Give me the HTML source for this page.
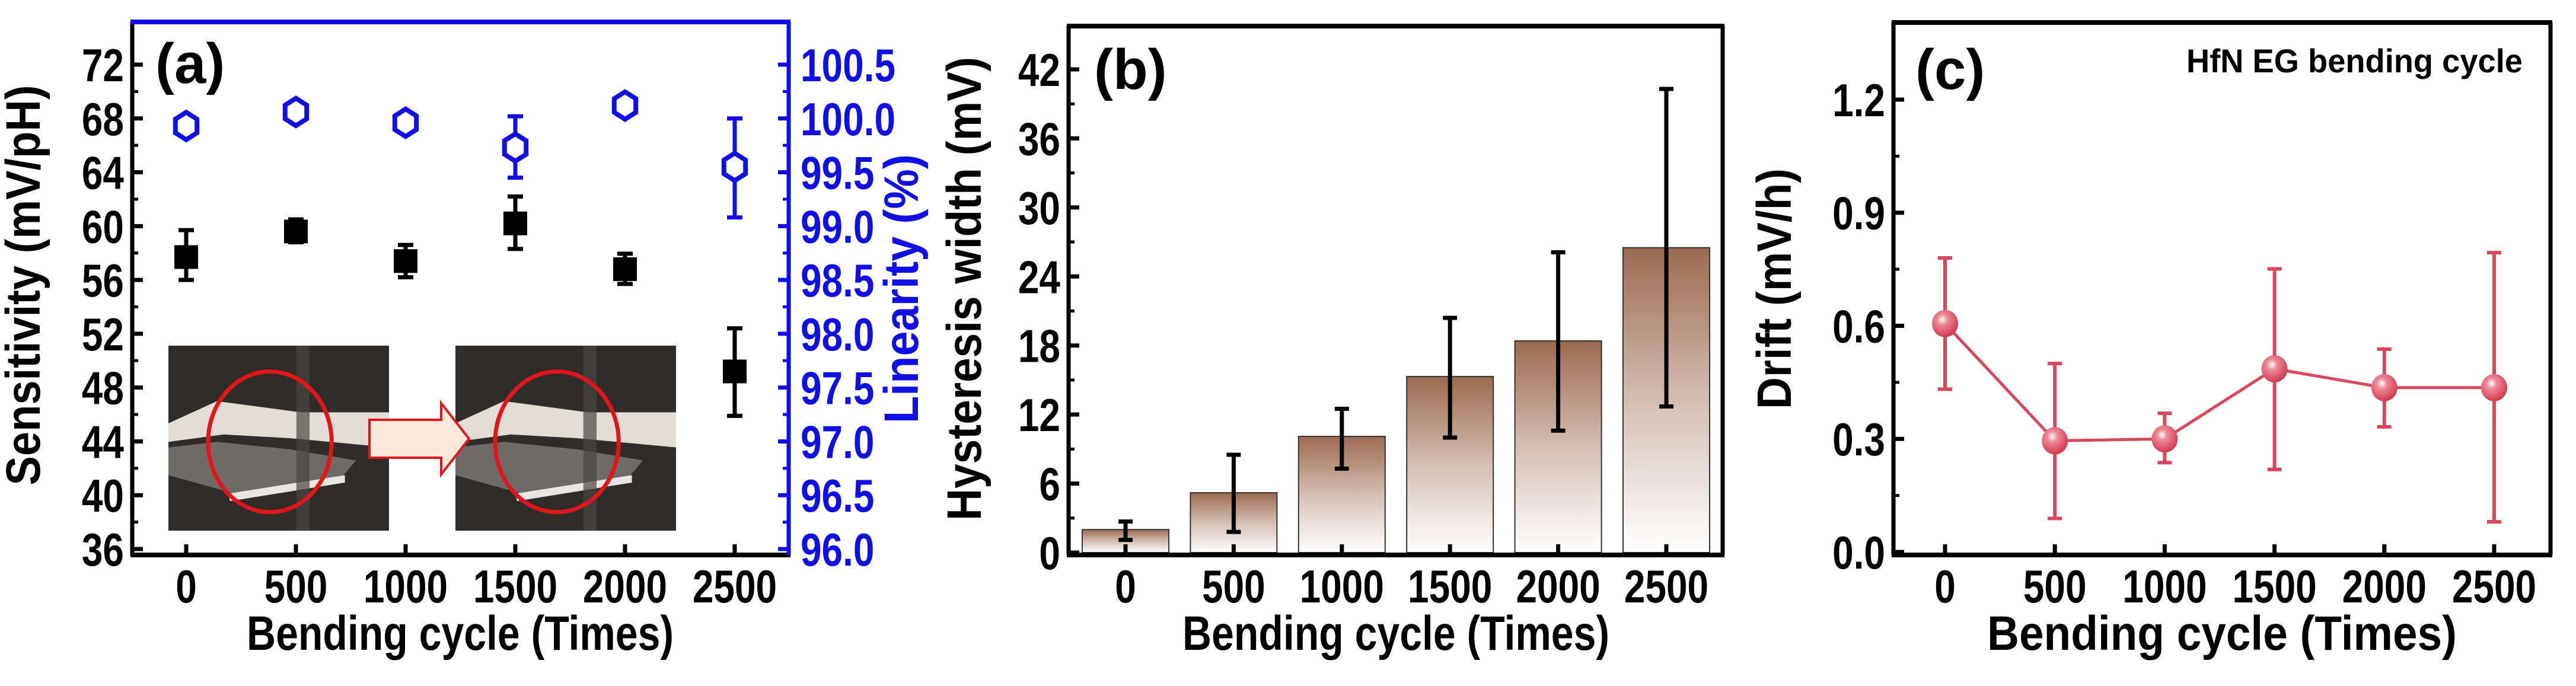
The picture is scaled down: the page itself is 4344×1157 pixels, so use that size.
<!DOCTYPE html>
<html><head><meta charset="utf-8"><style>
html,body{margin:0;padding:0;background:#fff;}
svg{display:block;font-family:"Liberation Sans",Arial,sans-serif;font-weight:bold;}
</style></head><body>
<svg id="fig" width="4344" height="1157" viewBox="0 0 4344 1157" xmlns="http://www.w3.org/2000/svg">
<defs>
<linearGradient id="barGrad" x1="0" y1="0" x2="0" y2="1">
<stop offset="0" stop-color="#9c6a50"/><stop offset="0.55" stop-color="#d9c6bd"/><stop offset="1" stop-color="#ffffff"/>
</linearGradient>
<radialGradient id="ballGrad" cx="0.4" cy="0.35" r="0.65">
<stop offset="0" stop-color="#ffffff"/><stop offset="0.3" stop-color="#ee8a98"/><stop offset="1" stop-color="#d43a50"/>
</radialGradient>
</defs>
<g id="panelA"></g>
<g id="panelB"></g>
<g id="panelC"></g>
</svg>
<script>
// ---- data ----
const cycles = [0, 500, 1000, 1500, 2000, 2500];
const sensVals = [57.7, 59.6, 57.4, 60.2, 56.8, 49.2];
const sensHi = [59.7, 60.5, 58.6, 62.2, 57.95, 52.4];
const sensLo = [56.0, 58.8, 56.2, 58.3, 55.7, 45.9];
const linVals = [99.93, 100.06, 99.96, 99.73, 100.12, 99.55];
const linHi = [99.97, 100.1, 100.0, 100.02, 100.16, 100.0];
const linLo = [99.89, 100.02, 99.92, 99.45, 100.08, 99.08];
const sensTicks = [36, 40, 44, 48, 52, 56, 60, 64, 68, 72];
const linTicks = ["96.0","96.5","97.0","97.5","98.0","98.5","99.0","99.5","100.0","100.5"];
const hystVals = [2.0, 5.2, 10.1, 15.3, 18.4, 26.5];
const hystHi = [2.7, 8.5, 12.5, 20.4, 26.1, 40.3];
const hystLo = [1.1, 1.8, 7.3, 10.0, 10.6, 12.7];
const hystTicks = [0, 6, 12, 18, 24, 30, 36, 42];
const driftVals = [0.606, 0.295, 0.30, 0.486, 0.436, 0.436];
const driftHi = [0.78, 0.50, 0.368, 0.751, 0.538, 0.794];
const driftLo = [0.432, 0.089, 0.237, 0.219, 0.332, 0.08];
const driftTicks = ["0.0","0.3","0.6","0.9","1.2"];

const NS = "http://www.w3.org/2000/svg";
function mk(parent, tag, attrs, text){
  const e = document.createElementNS(NS, tag);
  for (const k in attrs) e.setAttribute(k, attrs[k]);
  if (text !== undefined) e.textContent = text;
  parent.appendChild(e);
  return e;
}
function lin(d0,d1,r0,r1){ return v => r0 + (v-d0)/(d1-d0)*(r1-r0); }

function frame(g, L, R, T, B, color, rightColor){
  let e;
  e = mk(g,'line',{x1:L,y1:T,x2:L,y2:B,stroke:'#000','stroke-width':7});
   
  e = mk(g,'line',{x1:L-3,y1:B,x2:R+3,y2:B,stroke:'#000','stroke-width':8});
   
  e = mk(g,'line',{x1:L-3,y1:T,x2:R+3,y2:T,stroke:rightColor||'#000','stroke-width':8});
   
  e = mk(g,'line',{x1:R,y1:T,x2:R,y2:B,stroke:rightColor||'#000','stroke-width':7});
   
}
function xAxis(g, xs, B, titleX, titleLen){
  cycles.forEach(c => {
    const x = xs(c);
    const t = mk(g,'line',{x1:x,y1:B,x2:x,y2:B-18,stroke:'#000','stroke-width':7});
     
    const l = mk(g,'text',{x:x,y:B+80,'text-anchor':'middle','font-size':78,fill:'#000',transform:`translate(${x},0) scale(0.82,1) translate(${-x},0)`}, String(c));
     
  });
  const tt = mk(g,'text',{x:titleX,y:B+160,'text-anchor':'middle','font-size':82,fill:'#000',textLength:titleLen,lengthAdjust:'spacingAndGlyphs'},'Bending cycle (Times)');
   
}
function yTicks(g, ys, vals, labels, L, T, B, color, right){
  const dir = right ? -1 : 1;
  vals.forEach((v,i) => {
    const y = ys(v);
    const t = mk(g,'line',{x1:L,y1:y,x2:L+dir*18,y2:y,stroke:color,'stroke-width':7});
     
    if (i < vals.length-1){
      const ym = (ys(v)+ys(vals[i+1]))/2;
      const m = mk(g,'line',{x1:L,y1:ym,x2:L+dir*10,y2:ym,stroke:color,'stroke-width':5});
       
    }
    const tx = right ? L+20 : L-14;
    const l = mk(g,'text',{x:tx,y:y+28,'text-anchor':right?'start':'end','font-size':78,fill:color,transform:`translate(${tx},0) scale(0.82,1) translate(${-tx},0)`}, String(labels[i]));
     
  });
}
function yTitle(g, x, y, len, text, color, name){
  const t = mk(g,'text',{x:0,y:0,'text-anchor':'middle','font-size':82,fill:color,textLength:len,lengthAdjust:'spacingAndGlyphs',transform:`translate(${x},${y}) rotate(-90)`}, text);
   
}
function errBar(g, x, y1, y2, color, w, cap){
  const e = mk(g,'g',{});
   
  mk(e,'line',{x1:x,y1:y1,x2:x,y2:y2,stroke:color,'stroke-width':w});
  mk(e,'line',{x1:x-cap,y1:y1,x2:x+cap,y2:y1,stroke:color,'stroke-width':w});
  mk(e,'line',{x1:x-cap,y1:y2,x2:x+cap,y2:y2,stroke:color,'stroke-width':w});
}

// ---- Panel A ----
(function(){
  const g = document.getElementById('panelA');
  const L=223, R=1330, T=37, B=936;
  const xs = lin(0,2500,314,1239);
  const ys = lin(36,72,926,109);
  const yl = lin(96,100.5,926,109);
  function photo(x0,y0,w,h,name){
    const p = mk(g,'g',{});
     
    mk(p,'rect',{x:x0,y:y0,width:w,height:h,fill:'#2f2c29'});
    mk(p,'polygon',{points:`${x0},${y0+h*0.42} ${x0+w*0.22},${y0+h*0.3} ${x0+w*0.6},${y0+h*0.36} ${x0+w},${y0+h*0.36} ${x0+w},${y0+h*0.55} ${x0+w*0.55},${y0+h*0.5} ${x0+w*0.25},${y0+h*0.48} ${x0},${y0+h*0.52}`,fill:'#e2ded6'});
    mk(p,'polygon',{points:`${x0},${y0+h*0.55} ${x0+w*0.22},${y0+h*0.52} ${x0+w*0.55},${y0+h*0.56} ${x0+w*0.85},${y0+h*0.62} ${x0+w*0.78},${y0+h*0.72} ${x0+w*0.3},${y0+h*0.8} ${x0},${y0+h*0.7}`,fill:'#6e6a66'});
    mk(p,'polygon',{points:`${x0+w*0.27},${y0+h*0.8} ${x0+w*0.8},${y0+h*0.7} ${x0+w*0.8},${y0+h*0.74} ${x0+w*0.28},${y0+h*0.84}`,fill:'#e8e6e2'});
    mk(p,'rect',{x:x0+w*0.58,y:y0,width:w*0.06,height:h,fill:'#4a4643',opacity:0.7});
    const c = mk(p,'ellipse',{cx:x0+w*0.46,cy:y0+h*0.52,rx:w*0.28,ry:h*0.38,fill:'none',stroke:'#e0161b','stroke-width':7});
     
  }
  photo(284,583,372,312,'inset-photo-before');
  photo(768,583,372,312,'inset-photo-after');
  const ar = mk(g,'polygon',{points:'623,708 744,708 744,680 791,740 744,800 744,772 623,772',fill:'#fbe9dc',stroke:'#e0161b','stroke-width':4});
   

  frame(g,L,R,T,B,'#000','#1010e6');
  yTicks(g, ys, sensTicks, sensTicks, L, T, B, '#000', false);
  yTicks(g, yl, linTicks.map(Number), linTicks, R, T, B, '#1010e6', true);
  xAxis(g, xs, B, 776, 720);
  yTitle(g, 67, 481, 675, 'Sensitivity (mV/pH)', '#000', 'y-axis-title');
  yTitle(g, 1548, 487, 454, 'Linearity (%)', '#1010e6', 'right-y-axis-title');
  const lab = mk(g,'text',{x:262,y:140,'font-size':96,fill:'#000'},'(a)');
   

  cycles.forEach((c,i)=>{
    const x = xs(c);
    errBar(g,x,ys(sensHi[i]),ys(sensLo[i]),'#000',7,13);
    const s = mk(g,'rect',{x:x-20,y:ys(sensVals[i])-20,width:40,height:40,fill:'#000'});
     
    errBar(g,x,yl(linHi[i]),yl(linLo[i]),'#1010e6',7,13);
    const cy = yl(linVals[i]); const r=21;
    let pts=[]; for(let k=0;k<6;k++){const a=Math.PI/2+k*Math.PI/3; pts.push((x+r*Math.cos(a)).toFixed(1)+','+(cy+r*1.1*Math.sin(a)).toFixed(1));}
    const h = mk(g,'polygon',{points:pts.join(' '),fill:'#fff',stroke:'#1010e6','stroke-width':8});
     
  });
})();

// ---- Panel B ----
(function(){
  const g = document.getElementById('panelB');
  const L=1802, R=2905, T=44, B=936;
  const xs = lin(0,2500,1898,2810);
  const ys = lin(0,42,932,117);
  cycles.forEach((c,i)=>{
    const x = xs(c), w=146;
    const b = mk(g,'rect',{x:x-w/2,y:ys(hystVals[i]),width:w,height:ys(0)-ys(hystVals[i]),fill:'url(#barGrad)',stroke:'#333','stroke-width':2});
     
  });
  frame(g,L,R,T,B);
  yTicks(g, ys, hystTicks, hystTicks, L, T, B, '#000', false);
  xAxis(g, xs, B, 2354, 720);
  yTitle(g, 1654, 487, 782, 'Hysteresis width (mV)', '#000', 'y-axis-title');
  const lab = mk(g,'text',{x:1845,y:150,'font-size':96,fill:'#000'},'(b)');
   
  cycles.forEach((c,i)=> errBar(g,xs(c),ys(hystHi[i]),ys(hystLo[i]),'#000',7,12));
})();

// ---- Panel C ----
(function(){
  const g = document.getElementById('panelC');
  const L=3193, R=4301, T=38, B=936;
  const xs = lin(0,2500,3280,4206);
  const ys = lin(0,1.2,931,168);
  frame(g,L,R,T,B);
  yTicks(g, ys, driftTicks.map(Number), driftTicks, L, T, B, '#000', false);
  xAxis(g, xs, B, 3747, 792);
  yTitle(g, 3020, 487, 406, 'Drift (mV/h)', '#000', 'y-axis-title');
  const lab = mk(g,'text',{x:3230,y:150,'font-size':96,fill:'#000'},'(c)');
   
  const leg = mk(g,'text',{x:3687,y:122,'font-size':56,fill:'#000',textLength:567,lengthAdjust:'spacingAndGlyphs'},'HfN EG bending cycle');
   
  const pts = cycles.map((c,i)=>xs(c).toFixed(1)+','+ys(driftVals[i]).toFixed(1)).join(' ');
  const pl = mk(g,'polyline',{points:pts,fill:'none',stroke:'#d9475a','stroke-width':5});
   
  cycles.forEach((c,i)=>{
    errBar(g,xs(c),ys(driftHi[i]),ys(driftLo[i]),'#d9475a',6,12);
    const p = mk(g,'ellipse',{cx:xs(c),cy:ys(driftVals[i]),rx:22,ry:23,fill:'url(#ballGrad)'});
     
  });
})();
</script>
</body></html>
